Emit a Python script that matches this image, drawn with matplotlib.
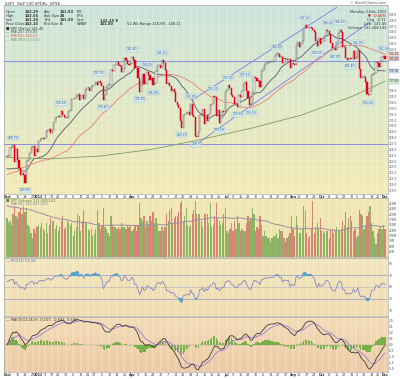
import numpy as np
import pandas as pd
import matplotlib
matplotlib.use("Agg")
import matplotlib.pyplot as plt
from matplotlib.colors import LinearSegmentedColormap

# ---- data (SPY daily, Dec 2011 - Dec 2012) ----
holidays = ['2011-11-24', '2011-12-26', '2012-01-02', '2012-01-16', '2012-02-20',
            '2012-04-06', '2012-05-28', '2012-07-04', '2012-09-03', '2012-10-29',
            '2012-10-30', '2012-11-22']

warm_close = [109.9, 112.3, 114.4, 116.4, 115.5, 119.5, 119.5, 120.7, 120.4, 122.4, 120.0,
              122.5, 120.9, 121.5, 123.8, 125.4, 122.9, 124.2, 128.5, 128.5, 125.3,
              121.8, 123.7, 126.1, 125.3, 126.1, 127.6, 122.9, 123.9, 126.3, 125.1,
              125.7, 123.6, 121.6, 121.6, 119.3, 118.8, 116.2, 115.9, 119.2, 119.5, 124.7]
warm_vol = [310, 330, 290, 250, 230, 240, 190, 260, 200, 210, 220, 250, 280, 230, 300, 200,
            240, 260, 330, 210, 230, 330, 270, 290, 220, 170, 200, 310, 230, 190, 160, 170,
            240, 280, 230, 260, 190, 220, 110, 200, 190, 330]

close_dec11 = [124.9, 124.9, 126.3, 126.4, 126.7, 123.8, 126.0, 124.2, 122.9, 121.6, 122.0,
               121.6, 120.3, 124.0, 124.2, 125.3, 126.4, 126.5, 124.8, 126.1, 125.5]
close_jan = [127.5, 127.7, 128.0, 127.7, 128.0, 129.1, 129.2, 129.5, 128.8, 129.3, 130.7,
             131.3, 131.5, 131.6, 131.5, 132.6, 131.9, 131.6, 131.3, 131.3]
close_feb = [132.5, 132.7, 134.5, 134.5, 134.8, 135.1, 135.4, 134.4, 135.3, 135.2, 134.6,
             136.1, 136.4, 136.4, 136.0, 136.6, 136.9, 137.0, 137.5, 137.0]
close_mar = [137.7, 137.3, 136.8, 134.4, 135.3, 136.6, 137.0, 137.0, 139.5, 139.4, 140.3,
             140.3, 140.9, 140.4, 140.2, 139.2, 139.7, 141.6, 141.2, 140.5, 140.3, 140.8]
close_apr = [141.8, 141.3, 139.9, 139.8, 138.2, 135.8, 136.9, 138.9, 137.1, 137.1, 139.2,
             138.7, 137.9, 138.1, 136.9, 137.3, 139.4, 140.3, 140.4, 139.9]
close_may = [141.2, 140.8, 139.6, 137.2, 137.3, 136.8, 136.0, 136.3, 135.7, 134.1, 133.5,
             133.1, 130.9, 129.7, 131.9, 132.0, 132.2, 132.4, 131.9, 133.7, 131.8, 131.5]
close_jun = [128.2, 128.1, 129.0, 131.9, 131.8, 132.9, 130.3, 131.9, 130.8, 132.1, 133.5,
             133.8, 135.1, 134.9, 131.7, 132.7, 130.5, 131.3, 132.5, 132.3, 135.8]
close_jul = [136.1, 137.0, 136.5, 135.2, 135.0, 133.8, 133.8, 133.2, 135.3, 135.0, 136.0,
             137.1, 137.5, 136.0, 134.7, 133.5, 133.5, 135.7, 138.3, 138.2, 137.7]
close_aug = [137.6, 136.6, 139.4, 139.7, 140.4, 140.7, 140.8, 140.9, 140.9, 140.9, 141.0,
             141.9, 142.2, 142.2, 141.7, 141.8, 140.7, 141.5, 141.4, 141.3, 141.4, 139.9, 140.6]
close_sep = [140.5, 140.3, 143.8, 144.3, 143.5, 144.0, 144.4, 146.6, 147.2, 146.7, 146.6,
             146.8, 146.7, 146.4, 146.0, 144.5, 143.6, 145.0, 143.9]
close_oct = [144.4, 144.5, 145.3, 146.3, 146.2, 145.7, 144.1, 143.2, 143.2, 142.9, 144.3,
             145.8, 146.4, 146.0, 143.4, 143.5, 141.5, 141.2, 141.5, 141.4, 141.4]
close_nov = [142.8, 141.4, 141.8, 142.9, 139.7, 138.1, 138.3, 138.3, 137.5, 135.4, 135.2,
             136.0, 138.7, 138.8, 139.0, 140.9, 140.7, 140.0, 141.1, 141.8, 141.9]
close_dec12 = [141.4]

# volume in millions of shares
vol_dec11 = [180, 160, 170, 150, 200, 240, 190, 180, 210, 230, 200, 240, 210, 230, 150, 140, 110, 90, 130, 110, 140]
vol_jan = [150, 140, 160, 130, 120, 160, 110, 150, 180, 170, 170, 130, 150, 120, 140, 170, 190, 130, 140, 170]
vol_feb = [160, 150, 160, 100, 120, 140, 200, 190, 120, 170, 220, 160, 160, 130, 120, 130, 100, 110, 130, 220]
vol_mar = [160, 130, 150, 230, 140, 130, 110, 100, 190, 150, 140, 140, 130, 140, 130, 160, 140, 140, 130, 150, 140, 150]
vol_apr = [120, 130, 150, 120, 150, 250, 180, 170, 190, 140, 170, 150, 190, 170, 210, 160, 180, 150, 120, 120]
vol_may = [140, 120, 140, 200, 170, 220, 230, 160, 180, 190, 190, 210, 250, 260, 170, 190, 230, 150, 140, 150, 200, 220]
vol_jun = [260, 200, 200, 200, 170, 140, 200, 200, 200, 160, 250, 140, 150, 190, 250, 180, 170, 150, 160, 200, 230]
vol_jul = [120, 110, 130, 160, 120, 170, 130, 190, 160, 120, 130, 120, 120, 160, 190, 170, 180, 230, 200, 120, 140]
vol_aug = [130, 190, 150, 100, 120, 100, 90, 90, 70, 90, 100, 100, 110, 90, 130, 120, 120, 90, 70, 90, 100, 110, 190]
vol_sep = [130, 100, 190, 150, 110, 110, 130, 240, 220, 110, 90, 100, 130, 260, 110, 140, 160, 130, 180]
vol_oct = [120, 120, 110, 120, 120, 90, 130, 130, 110, 120, 140, 120, 120, 130, 170, 150, 210, 140, 180, 190, 170]
vol_nov = [120, 130, 90, 100, 220, 200, 190, 130, 150, 190, 210, 240, 160, 120, 90, 60, 110, 130, 140, 130, 150]
vol_dec12 = [130]

# 200-day average as drawn on the chart
ma200_dates = ['2011-12-01', '2012-01-17', '2012-03-05', '2012-04-20', '2012-06-07',
               '2012-07-25', '2012-09-11', '2012-10-31', '2012-12-03']
ma200_vals = [124.6, 124.4, 124.9, 126.0, 127.7, 129.6, 131.8, 135.0, 137.6]

# trend lines: (start date, price, end date, price)
channel_upper = ('2012-05-30', 134.4, '2012-10-15', 150.2)
channel_lower = ('2012-05-30', 126.4, '2012-11-16', 147.7)
hlines = [141.0, 127.0]

swing_highs = ['2011-12-07', '2012-01-25', '2012-03-01', '2012-04-02', '2012-04-17', '2012-05-01',
               '2012-05-29', '2012-06-19', '2012-07-03', '2012-07-19', '2012-08-17', '2012-09-14',
               '2012-10-05', '2012-10-17', '2012-11-06', '2012-11-30']
swing_lows = ['2011-12-19', '2012-03-06', '2012-04-10', '2012-04-23', '2012-05-18', '2012-06-04',
              '2012-06-25', '2012-07-12', '2012-07-25', '2012-09-26', '2012-10-12', '2012-10-26',
              '2012-11-15']

# ---- build series ----
close = (close_dec11 + close_jan + close_feb + close_mar + close_apr + close_may + close_jun +
         close_jul + close_aug + close_sep + close_oct + close_nov + close_dec12)
vol = (vol_dec11 + vol_jan + vol_feb + vol_mar + vol_apr + vol_may + vol_jun + vol_jul +
       vol_aug + vol_sep + vol_oct + vol_nov + vol_dec12)
dates = pd.bdate_range('2011-12-01', '2012-12-03', freq='C', holidays=holidays)
wdates = pd.bdate_range('2011-10-03', '2011-11-30', freq='C', holidays=holidays)
n = len(dates)
nw = len(wdates)

allc = pd.Series(warm_close + close, index=wdates.append(dates))
allv = pd.Series(warm_vol + vol, index=wdates.append(dates))
ma20 = allc.rolling(20, min_periods=1).mean().values[nw:]
ma50 = allc.rolling(50, min_periods=1).mean().values[nw:]
vma = allv.rolling(50, min_periods=1).mean().values[nw:]
d = allc.diff()
up = d.clip(lower=0).ewm(alpha=1/14, adjust=False).mean()
dn = (-d.clip(upper=0)).ewm(alpha=1/14, adjust=False).mean()
rsi = (100 - 100 / (1 + up / dn)).values[nw:]
macd = allc.ewm(span=12, adjust=False).mean() - allc.ewm(span=26, adjust=False).mean()
sig = macd.ewm(span=9, adjust=False).mean()
hist = (macd - sig).values[nw:]
macd = macd.values[nw:]
sig = sig.values[nw:]

c = np.array(close)
o = np.array(allc.shift(1).values[nw:])
x = np.arange(n)
pos = {dt: i for i, dt in enumerate(dates)}
def xi(s):
    return pos[pd.Timestamp(s)]

# ---- figure ----
fig = plt.figure(figsize=(4.0, 3.79), dpi=100)
fig.patch.set_facecolor('white')
L, W = 4 / 400, 384 / 400
def box(top, bot):
    return [L, 1 - bot / 379, W, (bot - top) / 379]
axp = fig.add_axes(box(5, 194))
axv = fig.add_axes(box(198, 257))
axr = fig.add_axes(box(258, 316))
axm = fig.add_axes(box(317, 372))

def gradient(ax, c1, c2):
    cm = LinearSegmentedColormap.from_list('g', [c2, c1])
    ax.imshow(np.linspace(0, 1, 100).reshape(-1, 1)[::-1], cmap=cm, aspect='auto',
              extent=[0, 1, 0, 1], transform=ax.transAxes, zorder=0)

gradient(axp, '#c9e4da', '#f3eab2')
gradient(axv, '#f1e8b6', '#efe2a8')
gradient(axr, '#f2e6bc', '#f0dcb0')
gradient(axm, '#f2dcb6', '#eecaa6')

fs = 2.6
tfs = 2.1
grid_c = '#ffffff'
mondays = []
prev_week = None
for i, dt in enumerate(dates):
    wk = dt.isocalendar()[1]
    if wk != prev_week:
        mondays.append(i)
    prev_week = wk

for ax in (axp, axv, axr, axm):
    ax.set_xlim(-2, n + 1)
    for i in mondays:
        ax.axvline(i, color=grid_c, lw=0.35, alpha=0.7, zorder=0.5)
    ax.yaxis.tick_right()
    ax.tick_params(axis='y', labelsize=tfs, length=0, pad=0.8, colors='#444444')
    ax.tick_params(axis='x', length=0, labelbottom=False)
    for s in ax.spines.values():
        s.set_color('#9a9a9a')
        s.set_linewidth(0.4)

# price panel
ylo, yhi = 118.4, 150.6
axp.set_ylim(ylo, yhi)

# value tags on right axis, stacked so they do not collide
tags = sorted([(c[-1], '#f4c8c8'), (ma50[-1], '#f7d9cf'), (ma20[-1], '#d6e4f4'),
               (ma200_vals[-1], '#d8ecd0')], reverse=True)
tag_y = []
last_y = 2.0
for val, col in tags:
    yy = min((val - ylo) / (yhi - ylo), last_y - 0.022)
    last_y = yy
    tag_y.append(yy)
    axp.text(1.002, yy, '%.2f' % val, transform=axp.transAxes,
             fontsize=tfs, va='center', ha='left', color='#333333', zorder=8,
             bbox=dict(boxstyle='square,pad=0.1', fc=col, ec='#7f9fbf', lw=0.25))

pt = np.arange(119, 150, 1.0)
pt_keep = [v for v in pt if min(abs((v - ylo) / (yhi - ylo) - t) for t in tag_y) > 0.02]
axp.set_yticks(pt_keep)
axp.set_yticklabels(['%.1f' % v for v in pt_keep])
for v in pt:
    axp.axhline(v, color=grid_c, lw=0.3, alpha=0.5, zorder=0.5)
for h in hlines:
    axp.axhline(h, color='#8c8ce6', lw=0.7, zorder=2)
for ln in (channel_upper, channel_lower):
    axp.plot([xi(ln[0]), xi(ln[2])], [ln[1], ln[3]], color='#7b7be8', lw=0.6, zorder=2)
axp.plot(x, ma20, color='#55556e', lw=0.6, zorder=3)
axp.plot(x, ma50, color='#e8806e', lw=0.6, zorder=3)
axp.plot([xi(s) for s in ma200_dates], ma200_vals, color='#7f9a62', lw=0.6, zorder=3)

upd = c >= o
body_lo = np.minimum(o, c)
body_h = np.maximum(np.abs(c - o), 0.15)
axp.bar(x[upd], body_h[upd], bottom=body_lo[upd], width=0.8, facecolor='#f4f4f0',
        edgecolor='#666666', linewidth=0.35, zorder=4)
axp.bar(x[~upd], body_h[~upd], bottom=body_lo[~upd], width=0.8, facecolor='#e4001a',
        edgecolor='#e4001a', linewidth=0.35, zorder=4)

lab_box = dict(boxstyle='square,pad=0.15', fc='#d8ecf2', ec='#8fb4cc', lw=0.25)
for s in swing_highs:
    i = xi(s)
    axp.text(i, max(c[i], o[i]) + 0.9, '%.2f' % c[i], fontsize=2.2, ha='center',
             va='bottom', color='#335577', bbox=lab_box, zorder=6)
for s in swing_lows:
    i = xi(s)
    axp.text(i, min(c[i], o[i]) - 0.9, '%.2f' % c[i], fontsize=2.2, ha='center',
             va='top', color='#335577', bbox=lab_box, zorder=6)

# header text
hdr = [('Open', '142.29', 'Ask', '141.53', 'P/E', ''),
       ('High', '142.56', 'Ask Size', '28', 'EPS', ''),
       ('Low', '141.24', 'Bid', '141.50', 'Last', '141.45 ▼'),
       ('Prev Close', '142.15', 'Bid Size', '6', 'VWAP', '141.80')]
for r, row in enumerate(hdr):
    yy = 0.975 - r * 0.022
    for k, xx in enumerate([0.004, 0.055, 0.105, 0.145, 0.19, 0.25]):
        axp.text(xx, yy, row[k], transform=axp.transAxes, fontsize=fs, va='top',
                 color='#333333', fontweight='bold' if k % 2 else 'normal')
axp.text(0.32, 0.975 - 3 * 0.022, '52-Wk Range 118.98 - 148.11', transform=axp.transAxes,
         fontsize=fs, va='top', color='#333333')
leg = [('■ SPY (Daily) 141.45', '#333333'), ('— MA(20) 139.83', '#55556e'),
       ('— MA(50) 140.61', '#e06a58'), ('— MA(200) 137.62', '#7f9a62')]
for r, (t, col) in enumerate(leg):
    axp.text(0.004, 0.885 - r * 0.019, t, transform=axp.transAxes, fontsize=fs,
             va='top', color=col)
rt = [('Monday 3-Dec-2012', '#333333'), ('▼  -0.50%', '#d00000'), ('Chg  -0.71', '#333333'),
      ('Last  141.45', '#333333'), ('Volume  131,268,143', '#333333')]
for r, (t, col) in enumerate(rt):
    axp.text(0.995, 0.975 - r * 0.022, t, transform=axp.transAxes, fontsize=fs,
             va='top', ha='right', color=col)
fig.text(0.012, 0.997, '$SPY  S&P 500 SPDRs  NYSE', fontsize=2.8, va='top', color='#333333')
fig.text(0.965, 0.997, '© StockCharts.com', fontsize=2.6, va='top', ha='right', color='#555555')

# volume panel
vc = np.where(upd, '#8fb465', '#d98276')
axv.bar(x, vol, width=0.85, color=vc, zorder=2)
axv.plot(x, vma, color='#9a8fa6', lw=0.7, zorder=3)
axv.set_ylim(0, 275)
vt = np.arange(25, 275, 25)
axv.set_yticks(vt)
axv.set_yticklabels(['%dM' % v for v in vt])
axv.text(0.004, 0.985, '■ SPY Volume 131,268,143', transform=axv.transAxes, fontsize=fs,
         va='top', color='#5d8a3a')
axv.text(0.004, 0.925, '— MA(50) 146,822,000', transform=axv.transAxes, fontsize=fs,
         va='top', color='#8a7f96')

# RSI panel
axr.set_ylim(0, 100)
axr.plot(x, rsi, color='#8585cc', lw=0.6, zorder=3)
axr.axhline(70, color='#a6a6cc', lw=0.6, zorder=2)
axr.axhline(30, color='#a6a6cc', lw=0.6, zorder=2)
axr.axhline(50, color='#a6a6cc', lw=0.5, ls=(0, (2, 1)), zorder=2)
axr.fill_between(x, 70, rsi, where=rsi > 70, color='#3fb3cf', zorder=2.5, interpolate=True)
axr.fill_between(x, 30, rsi, where=rsi < 30, color='#3fb3cf', zorder=2.5, interpolate=True)
axr.set_yticks([10, 30, 50, 70, 90])
axr.text(0.004, 0.975, '— RSI(14) %.2f' % rsi[-1], transform=axr.transAxes, fontsize=fs,
         va='top', color='#6f6fb8')

# MACD panel
lim = max(np.abs(macd).max(), np.abs(sig).max()) * 1.08
axm.set_ylim(-lim, lim)
axm.bar(x, hist, width=0.8, color='#78b048', zorder=2)
axm.axhline(0, color='#9a9a9a', lw=0.3, zorder=1.5)
axm.plot(x, sig, color='#9b7fd6', lw=0.6, zorder=3)
axm.plot(x, macd, color='#3a3a3a', lw=0.6, zorder=4)
mt = np.arange(-2.0, 2.01, 0.5)
axm.set_yticks(mt)
axm.set_yticklabels(['%.1f' % v for v in mt])
axm.text(0.004, 0.975, '— MACD(12,26,9) %.3f, %.3f, %.3f' % (macd[-1], sig[-1], hist[-1]),
         transform=axm.transAxes, fontsize=fs, va='top', color='#3a3a3a')

# date labels
def date_labels(ax, ypos):
    for i in mondays:
        dt = dates[i]
        prev = dates[i - 1] if i > 0 else None
        if prev is None or dt.month != prev.month:
            t = '2012' if dt.month == 1 else dt.strftime('%b')
            w = 'bold'
        else:
            t = str(dt.day)
            w = 'normal'
        ax.text(i, ypos, t, transform=ax.get_xaxis_transform(), fontsize=2.4,
                ha='center', va='top', color='#333333', fontweight=w)
date_labels(axp, -0.004)
date_labels(axm, -0.02)

fig.savefig('out.png', dpi=100)
